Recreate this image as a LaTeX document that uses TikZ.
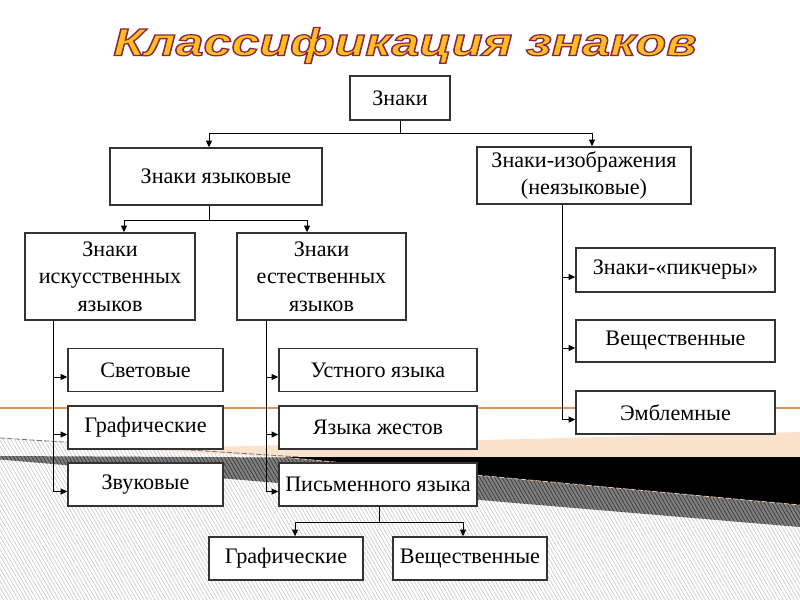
\documentclass[tikz,border=0pt]{standalone}
\usepackage{fontspec}
\setmainfont{Liberation Serif}
\newfontfamily\titlefont{Liberation Sans}
\usepackage{graphicx}
\usetikzlibrary{arrows.meta,patterns.meta,calc}
\definecolor{peach}{RGB}{251,226,204}
\definecolor{tanline}{RGB}{222,150,90}
\definecolor{ttlfill}{RGB}{255,192,30}
\newcommand\outlinetext[1]{\special{pdf:literal direct 2 Tr 0.9 w 0.55 0.14 0.27 RG}#1\special{pdf:literal direct 0 Tr 0.4 w}}
\begin{document}
\begin{tikzpicture}[x=0.75pt,y=-0.75pt,
 box/.style={draw=black!80, line width=1.1pt, fill=white, inner sep=0pt, align=center, font=\fontsize{16.6}{20.5}\selectfont},
 link/.style={line width=0.75pt, black},
 arr/.style={link, -{Triangle[length=5pt,width=4.5pt]}}]
\useasboundingbox (0,0) rectangle (800,600);
\fill[white] (0,0) rectangle (800,600);
% background decoration
\fill[pattern={Lines[angle=-60,distance=2.4pt,line width=0.45pt]}, pattern color=black!22] (0,438) -- (300,457) -- (800,457) -- (800,600) -- (0,600) -- cycle;
\fill[peach] (130,449) -- (800,432) -- (800,458) -- (300,458) -- cycle;
\draw[black!55, line width=0.6pt, dash pattern=on 4pt off 1.5pt] (0,438) -- (300,457);
\fill[black!50] (0,456) -- (285,457.5) -- (800,505) -- (800,527) -- (0,459.5) -- cycle;
\fill[pattern={Lines[angle=-60,distance=2.4pt,line width=0.5pt]}, pattern color=black!80] (0,456) -- (285,457.5) -- (800,505) -- (800,527) -- (0,459.5) -- cycle;
\fill[black] (280,457) -- (800,457) -- (800,505) -- cycle;
\draw[peach!60!tanline, line width=0.6pt, dash pattern=on 4pt off 1.5pt] (280,457) -- (800,505);
\draw[tanline, line width=0.8pt] (0,408) -- (800,408);
% boxes
\node[box, minimum width=75pt, minimum height=33pt] (zn) at (400,98) {Знаки};
\node[box, minimum width=159pt, minimum height=42.75pt] (zy) at (216,176.5) {Знаки языковые};
\node[box, minimum width=160.5pt, minimum height=42.75pt] (zi) at (584,175.5) {Знаки-изображения\\(неязыковые)};
\node[box, minimum width=127.5pt, minimum height=65.25pt] (ik) at (110,276.5) {Знаки\\искусственных\\языков};
\node[box, minimum width=126.75pt, minimum height=65.25pt] (ek) at (321.5,276.5) {Знаки\\естественных\\языков};
\node[box, minimum width=116.25pt, minimum height=32.25pt] (sv) at (145.5,370) {Световые};
\node[box, minimum width=116.25pt, minimum height=32.25pt] (gr) at (145.5,427.5) {Графические};
\node[box, minimum width=116.25pt, minimum height=32.25pt] (zv) at (145.5,484.5) {Звуковые};
\node[box, minimum width=148.5pt, minimum height=32.25pt] (us) at (378,370) {Устного языка};
\node[box, minimum width=148.5pt, minimum height=32.25pt] (yz) at (378,427.5) {Языка жестов};
\node[box, minimum width=148.5pt, minimum height=32.25pt] (pi) at (378,484.5) {Письменного языка};
\node[box, minimum width=115.5pt, minimum height=32.25pt] (gf) at (286,558.5) {Графические};
\node[box, minimum width=115.5pt, minimum height=32.25pt] (vb) at (470,558.5) {Вещественные};
\node[box, minimum width=149.25pt, minimum height=33pt] (pk) at (675.5,270) {Знаки-«пикчеры»};
\node[box, minimum width=149.25pt, minimum height=31.5pt] (vs) at (675.5,341) {Вещественные};
\node[box, minimum width=149.25pt, minimum height=32.25pt] (em) at (675.5,412.5) {Эмблемные};
% connectors
\coordinate (t1) at ($(zn.south)+(0,13)$);
\draw[link] (zn.south) -- (t1);
\draw[arr] (t1) -| ($(zy.north)+(-7,0)$);
\draw[arr] (t1) -| ($(zi.north)+(8,0)$);
\coordinate (t2) at ($(zy.south)+(-7,15)$);
\draw[link] ($(zy.south)+(-7,0)$) -- (t2);
\draw[arr] (t2) -| ($(ik.north)+(14,0)$);
\draw[arr] (t2) -| ($(ek.north)+(-14.5,0)$);
\foreach \b in {sv,gr,zv}{\draw[arr] ($(ik.south)+(-57,0)$) |- ($(\b.west)+(0,7)$);}
\foreach \b in {us,yz,pi}{\draw[arr] ($(ek.south)+(-55.5,0)$) |- ($(\b.west)+(0,7)$);}
\foreach \b in {pk,vs,em}{\draw[arr] ($(zi.south)+(-22,0)$) |- ($(\b.west)+(0,7)$);}
\coordinate (t3) at ($(pi.south)+(1,16)$);
\draw[link] ($(pi.south)+(1,0)$) -- (t3);
\draw[arr] (t3) -| ($(gf.north)+(9,0)$);
\draw[arr] (t3) -| ($(vb.north)+(-7,0)$);
% title
\node[text=ttlfill, inner sep=0pt, font=\titlefont\bfseries\itshape\fontsize{29}{30}\selectfont] (title) at (405,45.5) {\scalebox{1.3}[1]{\outlinetext{Классификация знаков}}};
\end{tikzpicture}
\end{document}
